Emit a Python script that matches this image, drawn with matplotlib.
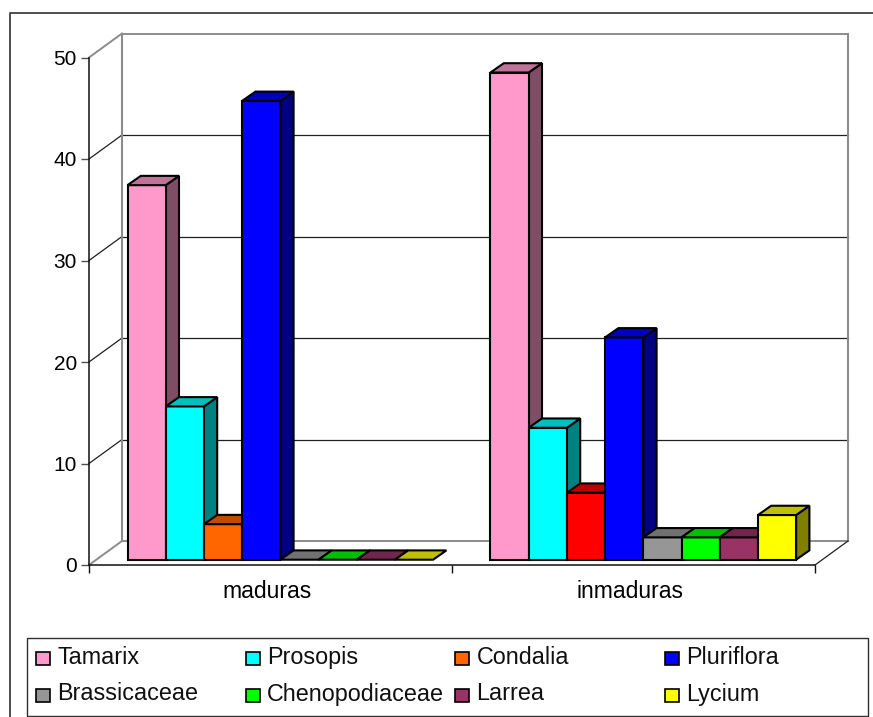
import matplotlib
matplotlib.use("Agg")
import matplotlib.pyplot as plt
from matplotlib.patches import Polygon, Rectangle

# Valores por categoria
categorias = ["maduras", "inmaduras"]
especies = ["Tamarix", "Prosopis", "Condalia", "Pluriflora",
            "Brassicaceae", "Chenopodiaceae", "Larrea", "Lycium"]
maduras = [36.9, 15.1, 3.5, 45.2, 0, 0, 0, 0]
inmaduras = [48, 13, 6.6, 21.9, 2.2, 2.2, 2.2, 4.4]
y_ticks = [0, 10, 20, 30, 40, 50]

cores = ["#FF99CC", "#00FFFF", "#FF6600", "#0000FF",
         "#969696", "#00FF00", "#993366", "#FFFF00"]
cor_condalia_inmaduras = "#FF0000"

plt.rcParams["font.family"] = ["Liberation Sans", "DejaVu Sans"]
W, H = 873, 717
fig = plt.figure(figsize=(W / 100, H / 100), dpi=100, facecolor="white")


def sombra(cor, f):
    r, g, b = matplotlib.colors.to_rgb(cor)
    return (r * f, g * f, b * f)


# Camada em pixels para a moldura e a legenda
fundo = fig.add_axes([0, 0, 1, 1], zorder=0)
fundo.set_xlim(0, W)
fundo.set_ylim(H, 0)
fundo.axis("off")
fundo.plot([10, 10, W], [H, 13, 13], color="#404040", lw=1.3)

# Eixos no plano da frente do grafico 3D
esq, dir_, base, topo = 89, 815, 565, 57.5
ax = fig.add_axes([esq / W, (H - base) / H, (dir_ - esq) / W, (base - topo) / H], zorder=1)
ax.patch.set_alpha(0)
ax.set_xlim(0, len(categorias))
ax.set_ylim(0, 50)
px_x = (dir_ - esq) / len(categorias)
px_y = (base - topo) / 50

# Profundidade da parede e das barras
DX, DY = 33 / px_x, 24 / px_y
BX, BY = 13.3 / px_x, 9.3 / px_y
largura = 38.2 / px_x
margem = 38.5 / px_x
elevacao = 5.3 / px_y

# Paredes e grades
for v in y_ticks:
    cor = "#8c8c8c" if v in (0, 50) else "#202020"
    lw = 1.4 if v in (0, 50) else 0.9
    ax.plot([0, DX], [v, v + DY], color=cor, lw=lw, clip_on=False, zorder=1)
    ax.plot([DX, 2 + DX], [v + DY, v + DY], color=cor, lw=lw, clip_on=False, zorder=1)
for x in (DX, 2 + DX):
    ax.plot([x, x], [DY, 50 + DY], color="#8c8c8c", lw=1.5, clip_on=False, zorder=1)
ax.plot([2, 2 + DX], [0, DY], color="#202020", lw=0.9, clip_on=False, zorder=1)

# Barras da esquerda para a direita, cada uma cobre a lateral da anterior
z = 2
for c, serie in enumerate([maduras, inmaduras]):
    for i, valor in enumerate(serie):
        cor = cores[i]
        if c == 1 and especies[i] == "Condalia":
            cor = cor_condalia_inmaduras
        x0 = c + margem + i * largura
        x1 = x0 + largura
        y0 = elevacao
        y1 = elevacao + valor
        estilo = dict(edgecolor="black", linewidth=1.5, joinstyle="miter", clip_on=False, zorder=z)
        if valor > 0:
            ax.add_patch(Polygon([(x1, y0), (x1 + BX, y0 + BY), (x1 + BX, y1 + BY), (x1, y1)],
                                 facecolor=sombra(cor, 0.5), **estilo))
            ax.bar(x0, valor, largura, bottom=y0, align="edge", color=cor,
                   edgecolor="black", linewidth=1.5, clip_on=False, zorder=z)
        ax.add_patch(Polygon([(x0, y1), (x0 + BX, y1 + BY), (x1 + BX, y1 + BY), (x1, y1)],
                             facecolor=sombra(cor, 0.75), **estilo))
        z += 1

# Escalas
ax.spines["top"].set_visible(False)
ax.spines["right"].set_visible(False)
for s in ("left", "bottom"):
    ax.spines[s].set_linewidth(1.1)
    ax.spines[s].set_color("#101010")
ax.set_yticks(y_ticks)
ax.tick_params(axis="y", length=5.8, width=1.0, pad=3, labelsize=15, color="#505050")
ax.set_xticks(range(len(categorias) + 1))
ax.set_xticklabels([])
ax.tick_params(axis="x", which="major", length=5.8, width=1.0, color="#101010")
ax.set_xticks([0.49, 1.49], minor=True)
ax.set_xticklabels(categorias, minor=True, fontsize=16.5)
ax.tick_params(axis="x", which="minor", length=0, pad=11)

# Legenda
fundo.add_patch(Rectangle((26.5, 638), 841, 78, facecolor="white", edgecolor="#303030", lw=1.0))
col_x = [35.5, 245.5, 455, 665]
lin_y = [658.5, 695]
for i, nome in enumerate(especies):
    x = col_x[i % 4]
    y = lin_y[i // 4]
    fundo.add_patch(Rectangle((x, y - 6.5), 14, 13, facecolor=cores[i], edgecolor="black", lw=1.2))
    fundo.text(x + 21.5, y + 5.5, nome, fontsize=16.8, va="baseline", ha="left", color="#101010")

fig.savefig("out.png", dpi=100, facecolor="white")
